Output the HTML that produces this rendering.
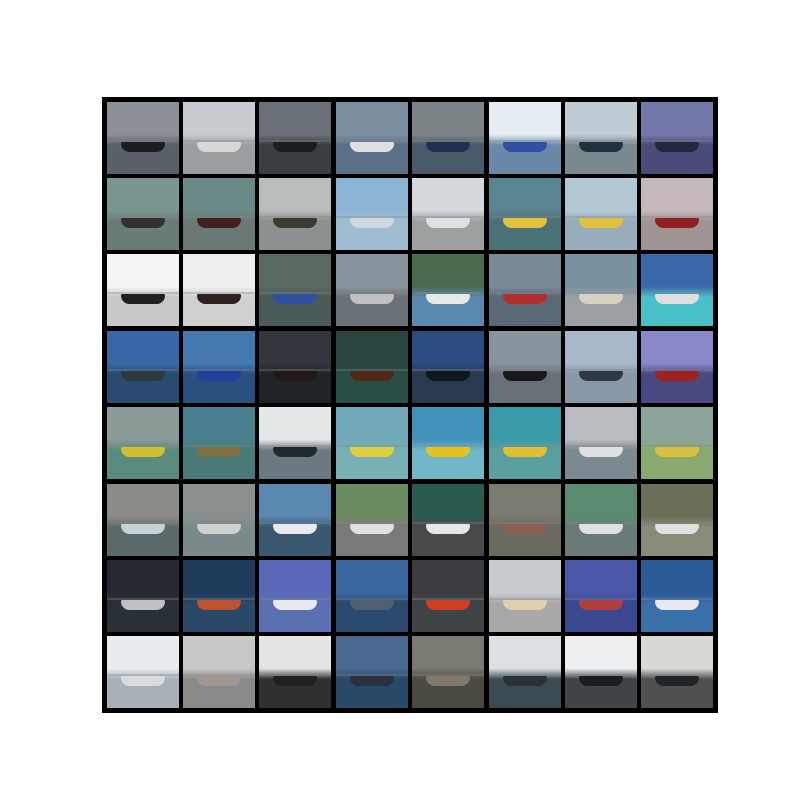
<!DOCTYPE html>
<html><head><meta charset="utf-8"><style>
body{margin:0;background:#fff;width:800px;height:800px;position:relative;overflow:hidden;font-family:"Liberation Sans",sans-serif}
#grid{position:absolute;left:102px;top:97px;width:616px;height:616px;background:#000}
.cell{position:absolute;width:72px;height:72px;overflow:hidden}
.ship{position:absolute;left:14px;width:44px;height:10px;top:40px;border-radius:2px 2px 10px 10px}
.hz{position:absolute;left:0;width:72px;height:2px;top:38px;opacity:.35;background:#888}
</style></head><body>
<div id="grid"></div>
<script>
const skyColors=[
["#8a9096","#c8ccd0","#6a7078","#7a8ea0","#7c8488","#e6eef4","#c0ccd4","#7478a8"],
["#7a9690","#6a8a88","#b8bcbc","#8cb4d4","#d4d8dc","#5a8490","#b4c8d4","#c4b8bc"],
["#f4f4f4","#eeeeee","#5a6a60","#8a949c","#4a6a50","#7a8898","#7890a0","#3a68a8"],
["#3868a8","#4478b0","#30363c","#2a4440","#2a4c80","#8a949c","#a8b8c8","#8a88c8"],
["#8c9a98","#4a8090","#e4e8e8","#70a8b8","#4090b8","#3a9aa8","#b8bcc0","#8aa49a"],
["#8a8c88","#8a9090","#5a88b0","#6a8a60","#2a5a50","#7a7a70","#5a8a70","#6a7058"],
["#242a30","#1e3a5a","#5a68b8","#3a68a0","#3a3c40","#c8ccd0","#4a58a8","#2a5a98"],
["#e8ecef","#c8c8c8","#e4e4e4","#4a6890","#7a7a70","#dce0e4","#eceef0","#d8d8d4"]];
const waterColors=[
["#5a6068","#9a9ea0","#3a3e40","#5a7088","#4a5a68","#6a88a8","#7a8890","#4a4c78"],
["#6a7c78","#6a7876","#8c9090","#a0bcd0","#9ca0a0","#4a7078","#98acbc","#a09494"],
["#c8c8c8","#d0d0d0","#4a5a58","#6a7078","#5a88b0","#5a6878","#9aa0a4","#48c0c8"],
["#2a4a70","#2a5080","#202428","#2a4e48","#2a3850","#6a7078","#8898a8","#4a4880"],
["#5a8a80","#4a7a78","#6a7a80","#78b0b8","#70b8c8","#5aa0a0","#7a8a90","#88aa70"],
["#5a6a6a","#7a8a8a","#3a5870","#7a7a78","#4a4a48","#6a6a60","#6a7a78","#8a8a78"],
["#2a3038","#2a4868","#5a70b0","#2a4870","#404448","#a8a8a8","#3a4890","#3a70a8"],
["#a8b0b8","#8a8a88","#303030","#2a4868","#4a4a40","#3a4a50","#404448","#505050"]];
const hullColors=[
["#1a1e20","#d8d8d8","#1a1c1e","#e0e0e0","#203050","#3050a0","#203040","#202840"],
["#303030","#402020","#3a3a30","#d0d8e0","#e0e0e0","#e8c040","#e0c040","#902020"],
["#202020","#302020","#3050a0","#c0c0c0","#e8e8e8","#b03030","#d8d0c0","#e0e0e0"],
["#303840","#2040a0","#201818","#502818","#101820","#181818","#303848","#a02020"],
["#d0c030","#807040","#202830","#e0d040","#e8c020","#e0c030","#e0e0e0","#d8c040"],
["#c8d0d8","#d0d0d0","#e8e8f0","#e0e0e0","#e8e8e8","#8a6050","#e0e0e0","#e0e0e0"],
["#c0c0c0","#c05030","#e8e8f0","#506070","#d04020","#e0d0b0","#b04040","#e8e8f0"],
["#d8dce0","#a09890","#202020","#2a3040","#807868","#2a3038","#1a1c1e","#202428"]];
const grid=document.getElementById('grid');
for(let r=0;r<8;r++){for(let c=0;c<8;c++){
 const d=document.createElement('div');
 d.className='cell';
 
 
 d.style.left=(4.5+c*76.4)+'px';d.style.top=(4.5+r*76.4)+'px';
 d.style.background='linear-gradient(to bottom,'+skyColors[r][c]+' 0%,'+skyColors[r][c]+' 45%,'+waterColors[r][c]+' 60%,'+waterColors[r][c]+' 100%)';
 const h=document.createElement('div');h.className='hz';
 
 
 d.appendChild(h);
 const s=document.createElement('div');s.className='ship';
 
 
 s.style.background=hullColors[r][c];
 d.appendChild(s);
 grid.appendChild(d);
}}
</script>
</body></html>
